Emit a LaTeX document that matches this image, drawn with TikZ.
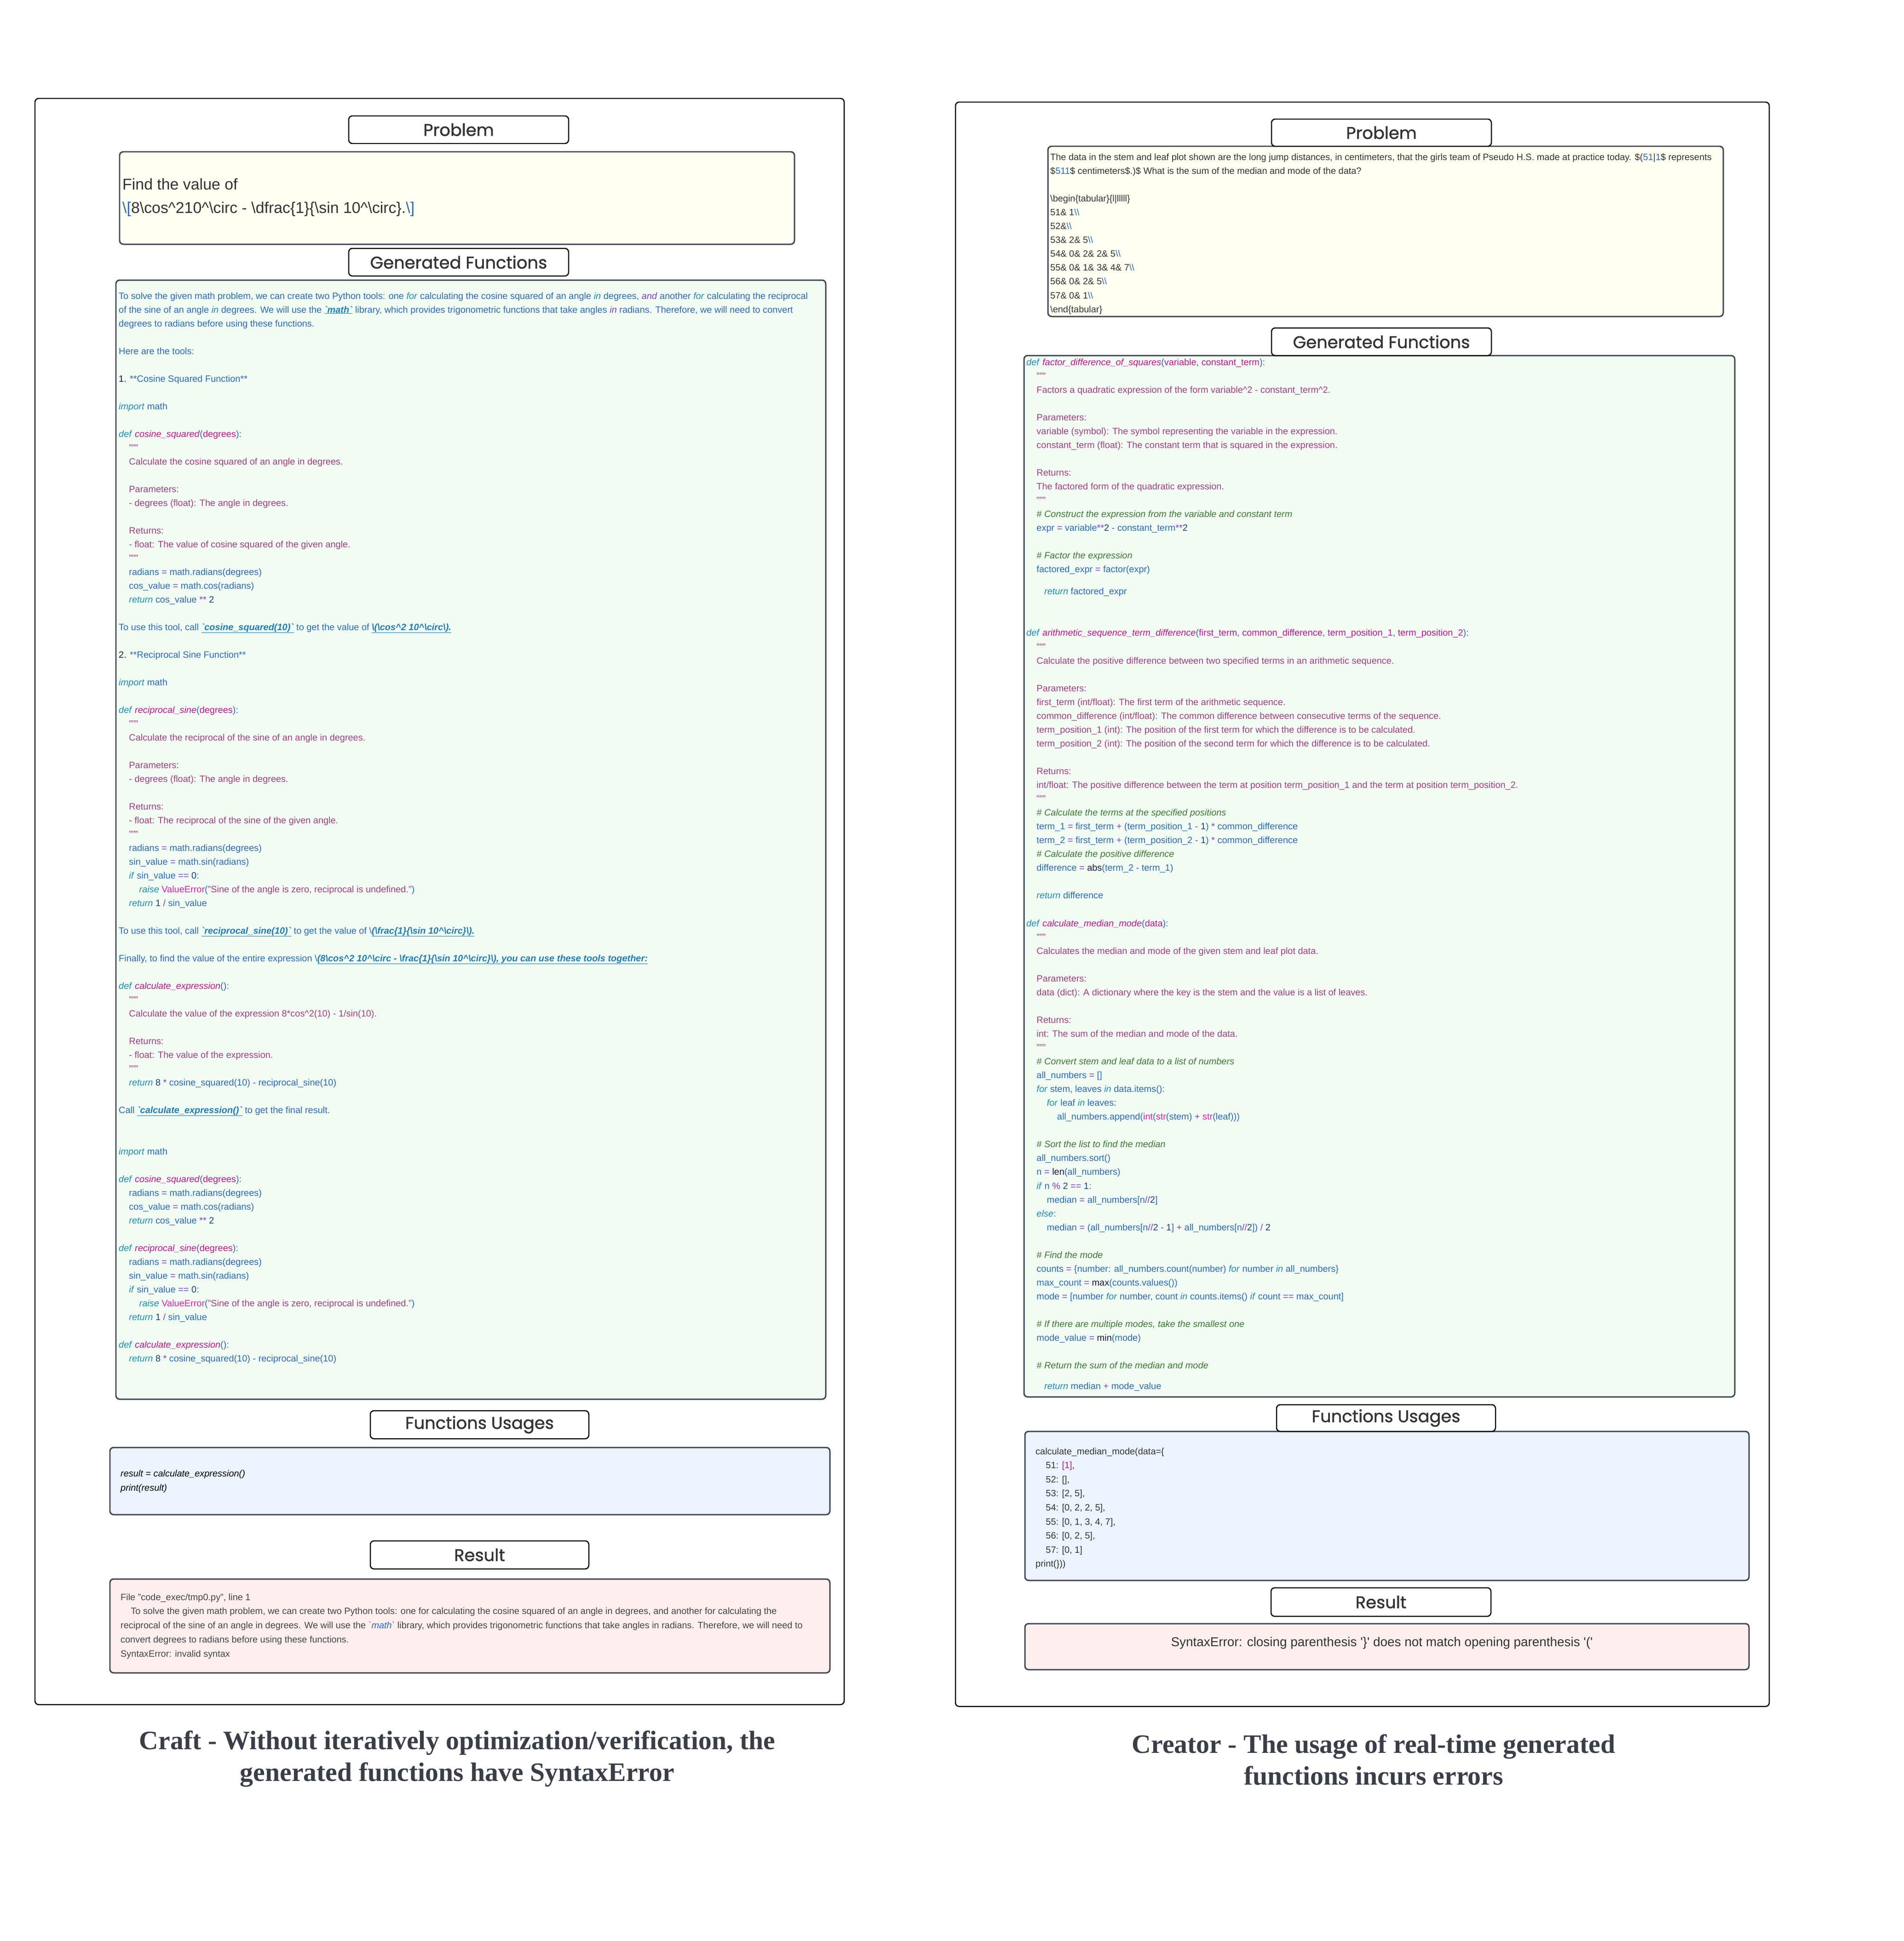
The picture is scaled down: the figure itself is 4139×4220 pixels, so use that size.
\documentclass[tikz,border=0pt]{standalone}
\usepackage{fontspec}
\setmainfont{Liberation Sans}
\newfontfamily\serifb{Liberation Serif}
\newfontfamily\hdrf{Poppins}[FakeBold=1.2]
\usetikzlibrary{fit}
\definecolor{codeblue}{HTML}{2A6BB8}
\definecolor{kwc}{HTML}{1B8FB0}
\definecolor{fnc}{HTML}{C0168C}
\definecolor{docc}{HTML}{A0407F}
\definecolor{bic}{HTML}{DD22AA}
\definecolor{opc}{HTML}{7B3FD0}
\definecolor{cmc}{HTML}{3B7A30}
\definecolor{dkc}{HTML}{1A1A3A}
\definecolor{numc}{HTML}{1D3F7A}
\definecolor{lnkc}{HTML}{1F7DB5}
\definecolor{txtgray}{HTML}{333333}
\definecolor{resgray}{HTML}{444444}
\definecolor{capgray}{HTML}{3A3F47}
\definecolor{boxline}{HTML}{3F4650}
\definecolor{probfill}{HTML}{FFFFF2}
\definecolor{genfill}{HTML}{F1FCF3}
\definecolor{fufill}{HTML}{EBF4FF}
\definecolor{resfill}{HTML}{FFEEEE}
\newcommand\kw[1]{\textcolor{kwc}{\textit{#1}}}
\newcommand\fnm[1]{\textcolor{fnc}{\textit{#1}}}
\newcommand\dc[1]{\textcolor{docc}{#1}}
\newcommand\cmt[1]{\textcolor{cmc}{\textit{#1}}}
\newcommand\bi[1]{\textcolor{bic}{#1}}
\newcommand\opr[1]{\textcolor{opc}{#1}}
\newcommand\nm[1]{\textcolor{numc}{#1}}
\newcommand\dk[1]{\textcolor{dkc}{#1}}
\newcommand\lnk[1]{\textcolor{lnkc}{\underline{\textbf{\textit{#1}}}}}
\newcommand\tq{\textcolor{docc}{"""}}
\newcommand\bl[1]{\textcolor{codeblue}{#1}}
\newcount\lncnt
\newcommand\cl[3]{\global\advance\lncnt by 1\relax\edef\lnname{t\the\lncnt}%
  \node[ln,lnx] (\lnname) at ({\xo+#2*5.56},{\yo+#1*\pitch}) {#3};}
\tikzset{
  ln/.style={anchor=base west, inner sep=0pt, text=codeblue, font=\fontsize{20}{24}\selectfont},
  lnx/.style={},
  panel/.style={draw=black, line width=2.5pt, rounded corners=8pt, inner sep=0pt},
  hdr/.style={draw=black, line width=2.5pt, rounded corners=8pt, fill=white, inner sep=0pt},
  hdrtxt/.style={inner sep=0pt, text=txtgray, font=\hdrf\fontsize{37}{42}\selectfont},
  cbox/.style={draw=boxline, line width=3pt, rounded corners=8pt, inner sep=0pt},
  captext/.style={align=center, text=capgray, font=\serifb\bfseries\fontsize{58}{69}\selectfont}
}
\begin{document}
\begin{tikzpicture}[x=1bp,y=-1bp]
\fill[white] (0,0) rectangle (4139,4220);
\useasboundingbox (0,0) rectangle (4139,4220);

% ---------------- LEFT PANEL ----------------
\node[panel, fit={(76,214) (1835,3706)}] (panelL) {};
\node[hdr, fit={(758,252) (1236,312)}] (hPL) {};
\node[hdrtxt] (hPLt) at (hPL.center) {Problem};
\node[cbox, fill=probfill, fit={(260,330) (1727,531)}] (probL) {};
\node[hdr, fit={(758,540) (1236,600)}] (hGL) {};
\node[hdrtxt] (hGLt) at (hGL.center) {Generated Functions};
\node[cbox, fill=genfill, fit={(252,609) (1795,3042)}] (genL) {};
\node[hdr, fit={(805,3067) (1280,3128)}] (hFL) {};
\node[hdrtxt] (hFLt) at (hFL.center) {Functions Usages};
\node[cbox, fill=fufill, fit={(239,3147) (1804,3293)}] (fuL) {};
\node[hdr, fit={(805,3350) (1280,3411)}] (hRL) {};
\node[hdrtxt] (hRLt) at (hRL.center) {Result};
\node[cbox, fill=resfill, fit={(239,3433) (1804,3637)}] (resL) {};

\node[anchor=base west, inner sep=0pt, text=txtgray, font=\fontsize{34}{40}\selectfont] (pl1) at (266,412) {Find the value of};
\node[anchor=base west, inner sep=0pt, text=txtgray, font=\fontsize{34}{40}\selectfont] (pl2) at (266,463) {\bl{\textbackslash[}8\textbackslash cos\textasciicircum 210\textasciicircum\textbackslash circ - \textbackslash dfrac\{1\}\{\textbackslash sin 10\textasciicircum\textbackslash circ\}.\bl{\textbackslash]}};

\def\xo{258}\def\yo{650}\def\pitch{30.0}
\cl{0}{0}{To solve the given math problem, we can create two Python tools: one \kw{for} calculating the cosine squared of an angle \kw{in} degrees, \textcolor{opc}{\textit{and}} another \kw{for} calculating the reciprocal}
\cl{1}{0}{of the sine of an angle \kw{in} degrees. We will use the \lnk{\textasciigrave math\textasciigrave} library, which provides trigonometric functions that take angles \textcolor{opc}{\textit{in}} radians. Therefore, we will need to convert}
\cl{2}{0}{degrees to radians before using these functions.}
\cl{4}{0}{Here are the tools:}
\cl{6}{0}{\dk{1.} **Cosine Squared Function**}
\cl{8}{0}{\kw{import} math}
\cl{10}{0}{\kw{def} \fnm{cosine\_squared}(\textcolor{fnc}{degrees}):}
\cl{11}{4}{\tq}
\cl{12}{4}{\dc{Calculate the cosine squared of an angle in degrees.}}
\cl{14}{4}{\dc{Parameters:}}
\cl{15}{4}{\dc{- degrees (float): The angle in degrees.}}
\cl{17}{4}{\dc{Returns:}}
\cl{18}{4}{\dc{- float: The value of cosine squared of the given angle.}}
\cl{19}{4}{\tq}
\cl{20}{4}{radians \opr{=} math.radians(degrees)}
\cl{21}{4}{cos\_value \opr{=} math.cos(radians)}
\cl{22}{4}{\kw{return} cos\_value \opr{**} \nm{2}}
\cl{24}{0}{To use this tool, call \lnk{\textasciigrave cosine\_squared(10)\textasciigrave} to get the value of \lnk{\textbackslash(\textbackslash cos\textasciicircum 2 10\textasciicircum\textbackslash circ\textbackslash).}}
\cl{26}{0}{\dk{2.} **Reciprocal Sine Function**}
\cl{28}{0}{\kw{import} math}
\cl{30}{0}{\kw{def} \fnm{reciprocal\_sine}(\textcolor{fnc}{degrees}):}
\cl{31}{4}{\tq}
\cl{32}{4}{\dc{Calculate the reciprocal of the sine of an angle in degrees.}}
\cl{34}{4}{\dc{Parameters:}}
\cl{35}{4}{\dc{- degrees (float): The angle in degrees.}}
\cl{37}{4}{\dc{Returns:}}
\cl{38}{4}{\dc{- float: The reciprocal of the sine of the given angle.}}
\cl{39}{4}{\tq}
\cl{40}{4}{radians \opr{=} math.radians(degrees)}
\cl{41}{4}{sin\_value \opr{=} math.sin(radians)}
\cl{42}{4}{\kw{if} sin\_value \opr{==} \nm{0}:}
\cl{43}{8}{\kw{raise} \bi{ValueError}(\dc{"Sine of the angle is zero, reciprocal is undefined."})}
\cl{44}{4}{\kw{return} \nm{1} \opr{/} sin\_value}
\cl{46}{0}{To use this tool, call \lnk{\textasciigrave reciprocal\_sine(10)\textasciigrave} to get the value of \textbackslash\lnk{(\textbackslash frac\{1\}\{\textbackslash sin 10\textasciicircum\textbackslash circ\}\textbackslash).}}
\cl{48}{0}{Finally, to find the value of the entire expression \textbackslash\lnk{(8\textbackslash cos\textasciicircum 2 10\textasciicircum\textbackslash circ - \textbackslash frac\{1\}\{\textbackslash sin 10\textasciicircum\textbackslash circ\}\textbackslash), you can use these tools together:}}
\cl{50}{0}{\kw{def} \fnm{calculate\_expression}():}
\cl{51}{4}{\tq}
\cl{52}{4}{\dc{Calculate the value of the expression 8*cos\textasciicircum 2(10) - 1/sin(10).}}
\cl{54}{4}{\dc{Returns:}}
\cl{55}{4}{\dc{- float: The value of the expression.}}
\cl{56}{4}{\tq}
\cl{57}{4}{\kw{return} \nm{8} \opr{*} cosine\_squared(10) \opr{-} reciprocal\_sine(10)}
\cl{59}{0}{Call \lnk{\textasciigrave calculate\_expression()\textasciigrave} to get the final result.}
\cl{62}{0}{\kw{import} math}
\cl{64}{0}{\kw{def} \fnm{cosine\_squared}(\textcolor{fnc}{degrees}):}
\cl{65}{4}{radians \opr{=} math.radians(degrees)}
\cl{66}{4}{cos\_value \opr{=} math.cos(radians)}
\cl{67}{4}{\kw{return} cos\_value \opr{**} \nm{2}}
\cl{69}{0}{\kw{def} \fnm{reciprocal\_sine}(\textcolor{fnc}{degrees}):}
\cl{70}{4}{radians \opr{=} math.radians(degrees)}
\cl{71}{4}{sin\_value \opr{=} math.sin(radians)}
\cl{72}{4}{\kw{if} sin\_value \opr{==} \nm{0}:}
\cl{73}{8}{\kw{raise} \bi{ValueError}(\dc{"Sine of the angle is zero, reciprocal is undefined."})}
\cl{74}{4}{\kw{return} \nm{1} \opr{/} sin\_value}
\cl{76}{0}{\kw{def} \fnm{calculate\_expression}():}
\cl{77}{4}{\kw{return} \nm{8} \opr{*} cosine\_squared(10) \opr{-} reciprocal\_sine(10)}

\tikzset{lnx/.style={text=black}}
\def\xo{262}\def\yo{3210}\def\pitch{31}
\cl{0}{0}{\textit{result = calculate\_expression()}}
\cl{1}{0}{\textit{print(result)}}

\tikzset{lnx/.style={text=resgray}}
\def\xo{262}\def\yo{3479}\def\pitch{30.8}
\cl{0}{0}{File "code\_exec/tmp0.py", line 1}
\cl{1}{4}{To solve the given math problem, we can create two Python tools: one for calculating the cosine squared of an angle in degrees, and another for calculating the}
\cl{2}{0}{reciprocal of the sine of an angle in degrees. We will use the \bl{\textit{\textasciigrave math\textasciigrave}} library, which provides trigonometric functions that take angles in radians. Therefore, we will need to}
\cl{3}{0}{convert degrees to radians before using these functions.}
\cl{4}{0}{SyntaxError: invalid syntax}

\node[captext] (capL) at (994,3824) {Craft - Without iteratively optimization/verification, the\\generated functions have SyntaxError};

% ---------------- RIGHT PANEL ----------------
\node[panel, fit={(2077,222) (3846,3710)}] (panelR) {};
\node[cbox, fill=probfill, fit={(2278,318) (3746,688)}] (probR) {};
\node[hdr, fit={(2764,259) (3242,318)}] (hPR) {};
\node[hdrtxt] (hPRt) at (hPR.center) {Problem};
\node[cbox, fill=genfill, fit={(2226,773) (3771,3037)}] (genR) {};
\node[hdr, fit={(2764,713) (3242,773)}] (hGR) {};
\node[hdrtxt] (hGRt) at (hGR.center) {Generated Functions};
\node[cbox, fill=fufill, fit={(2228,3112) (3802,3436)}] (fuR) {};
\node[hdr, fit={(2775,3054) (3251,3112)}] (hFR) {};
\node[hdrtxt] (hFRt) at (hFR.center) {Functions Usages};
\node[hdr, fit={(2763,3452) (3241,3514)}] (hRR) {};
\node[hdrtxt] (hRRt) at (hRR.center) {Result};
\node[cbox, fill=resfill, fit={(2228,3530) (3802,3630)}] (resR) {};

\tikzset{lnx/.style={text=txtgray}}
\def\xo{2283}\def\yo{348}\def\pitch{30.1}
\cl{0}{0}{The data in the stem and leaf plot shown are the long jump distances, in centimeters, that the girls team of Pseudo H.S. made at practice today. \$(\bl{51}|\bl{1}\$ represents}
\cl{1}{0}{\$\bl{511}\$ centimeters\$.)\$ What is the sum of the median and mode of the data?}
\cl{3}{0}{\textbackslash begin\{tabular\}\{l|lllll\}}
\cl{4}{0}{51\& 1\bl{\textbackslash\textbackslash}}
\cl{5}{0}{52\&\bl{\textbackslash\textbackslash}}
\cl{6}{0}{53\& 2\& 5\bl{\textbackslash\textbackslash}}
\cl{7}{0}{54\& 0\& 2\& 2\& 5\bl{\textbackslash\textbackslash}}
\cl{8}{0}{55\& 0\& 1\& 3\& 4\& 7\bl{\textbackslash\textbackslash}}
\cl{9}{0}{56\& 0\& 2\& 5\bl{\textbackslash\textbackslash}}
\cl{10}{0}{57\& 0\& 1\bl{\textbackslash\textbackslash}}
\cl{11}{0}{\textbackslash end\{tabular\}}

\tikzset{lnx/.style={}}
\def\xo{2231}\def\yo{794}\def\pitch{30.05}
\cl{0}{0}{\kw{def} \fnm{factor\_difference\_of\_squares}(\textcolor{fnc}{variable}, \textcolor{fnc}{constant\_term}):}
\cl{1}{4}{\tq}
\cl{2}{4}{\dc{Factors a quadratic expression of the form variable\textasciicircum 2 - constant\_term\textasciicircum 2.}}
\cl{4}{4}{\dc{Parameters:}}
\cl{5}{4}{\dc{variable (symbol): The symbol representing the variable in the expression.}}
\cl{6}{4}{\dc{constant\_term (float): The constant term that is squared in the expression.}}
\cl{8}{4}{\dc{Returns:}}
\cl{9}{4}{\dc{The factored form of the quadratic expression.}}
\cl{10}{4}{\tq}
\cl{11}{4}{\cmt{\# Construct the expression from the variable and constant term}}
\cl{12}{4}{expr \opr{=} variable\opr{**}\nm{2} \opr{-} constant\_term\opr{**}\nm{2}}
\cl{14}{4}{\cmt{\# Factor the expression}}
\cl{15}{4}{factored\_expr \opr{=} factor(expr)}
\cl{16.6}{7}{\kw{return} factored\_expr}
\cl{19.6}{0}{\kw{def} \fnm{arithmetic\_sequence\_term\_difference}(\textcolor{fnc}{first\_term}, \textcolor{fnc}{common\_difference}, \textcolor{fnc}{term\_position\_1}, \textcolor{fnc}{term\_position\_2}):}
\cl{20.6}{4}{\tq}
\cl{21.6}{4}{\dc{Calculate the positive difference between two specified terms in an arithmetic sequence.}}
\cl{23.6}{4}{\dc{Parameters:}}
\cl{24.6}{4}{\dc{first\_term (int/float): The first term of the arithmetic sequence.}}
\cl{25.6}{4}{\dc{common\_difference (int/float): The common difference between consecutive terms of the sequence.}}
\cl{26.6}{4}{\dc{term\_position\_1 (int): The position of the first term for which the difference is to be calculated.}}
\cl{27.6}{4}{\dc{term\_position\_2 (int): The position of the second term for which the difference is to be calculated.}}
\cl{29.6}{4}{\dc{Returns:}}
\cl{30.6}{4}{\dc{int/float: The positive difference between the term at position term\_position\_1 and the term at position term\_position\_2.}}
\cl{31.6}{4}{\tq}
\cl{32.6}{4}{\cmt{\# Calculate the terms at the specified positions}}
\cl{33.6}{4}{term\_1 \opr{=} first\_term \opr{+} (term\_position\_1 \opr{-} \nm{1}) \opr{*} common\_difference}
\cl{34.6}{4}{term\_2 \opr{=} first\_term \opr{+} (term\_position\_2 \opr{-} \nm{1}) \opr{*} common\_difference}
\cl{35.6}{4}{\cmt{\# Calculate the positive difference}}
\cl{36.6}{4}{difference \opr{=} \dk{abs}(term\_2 \opr{-} term\_1)}
\cl{38.6}{4}{\kw{return} difference}
\cl{40.6}{0}{\kw{def} \fnm{calculate\_median\_mode}(\textcolor{fnc}{data}):}
\cl{41.6}{4}{\tq}
\cl{42.6}{4}{\dc{Calculates the median and mode of the given stem and leaf plot data.}}
\cl{44.6}{4}{\dc{Parameters:}}
\cl{45.6}{4}{\dc{data (dict): A dictionary where the key is the stem and the value is a list of leaves.}}
\cl{47.6}{4}{\dc{Returns:}}
\cl{48.6}{4}{\dc{int: The sum of the median and mode of the data.}}
\cl{49.6}{4}{\tq}
\cl{50.6}{4}{\cmt{\# Convert stem and leaf data to a list of numbers}}
\cl{51.6}{4}{all\_numbers \opr{=} []}
\cl{52.6}{4}{\kw{for} stem, leaves \kw{in} data.items():}
\cl{53.6}{8}{\kw{for} leaf \kw{in} leaves:}
\cl{54.6}{12}{all\_numbers.append(\bi{int}(\bi{str}(stem) \opr{+} \bi{str}(leaf)))}
\cl{56.6}{4}{\cmt{\# Sort the list to find the median}}
\cl{57.6}{4}{all\_numbers.sort()}
\cl{58.6}{4}{n \opr{=} \dk{len}(all\_numbers)}
\cl{59.6}{4}{\kw{if} n \opr{\%} \nm{2} \opr{==} \nm{1}:}
\cl{60.6}{8}{median \opr{=} all\_numbers[n\opr{//}\nm{2}]}
\cl{61.6}{4}{\kw{else}:}
\cl{62.6}{8}{median \opr{=} (all\_numbers[n\opr{//}\nm{2} \opr{-} \nm{1}] \opr{+} all\_numbers[n\opr{//}\nm{2}]) \opr{/} \nm{2}}
\cl{64.6}{4}{\cmt{\# Find the mode}}
\cl{65.6}{4}{counts \opr{=} \{number: all\_numbers.count(number) \kw{for} number \kw{in} all\_numbers\}}
\cl{66.6}{4}{max\_count \opr{=} \dk{max}(counts.values())}
\cl{67.6}{4}{mode \opr{=} [number \kw{for} number, count \kw{in} counts.items() \kw{if} count \opr{==} max\_count]}
\cl{69.6}{4}{\cmt{\# If there are multiple modes, take the smallest one}}
\cl{70.6}{4}{mode\_value \opr{=} \dk{min}(mode)}
\cl{72.6}{4}{\cmt{\# Return the sum of the median and mode}}
\cl{74.1}{7}{\kw{return} median \opr{+} mode\_value}

\tikzset{lnx/.style={text=txtgray}}
\def\xo{2251}\def\yo{3162}\def\pitch{30.6}
\cl{0}{0}{calculate\_median\_mode(data=\{}
\cl{1}{4}{51: \textcolor{fnc}{[1]},}
\cl{2}{4}{52: [],}
\cl{3}{4}{53: [2, 5],}
\cl{4}{4}{54: [0, 2, 2, 5],}
\cl{5}{4}{55: [0, 1, 3, 4, 7],}
\cl{6}{4}{56: [0, 2, 5],}
\cl{7}{4}{57: [0, 1]}
\cl{8}{0}{print(\}))}

\node[anchor=base, inner sep=0pt, text=txtgray, font=\fontsize{28}{32}\selectfont] (resRt) at (3004,3579) {SyntaxError: closing parenthesis \textquotesingle\}\textquotesingle\ does not match opening parenthesis \textquotesingle(\textquotesingle};

\node[captext] (capR) at (2986,3826) {Creator - The usage of real-time generated\\functions incurs errors};
\end{tikzpicture}
\end{document}
